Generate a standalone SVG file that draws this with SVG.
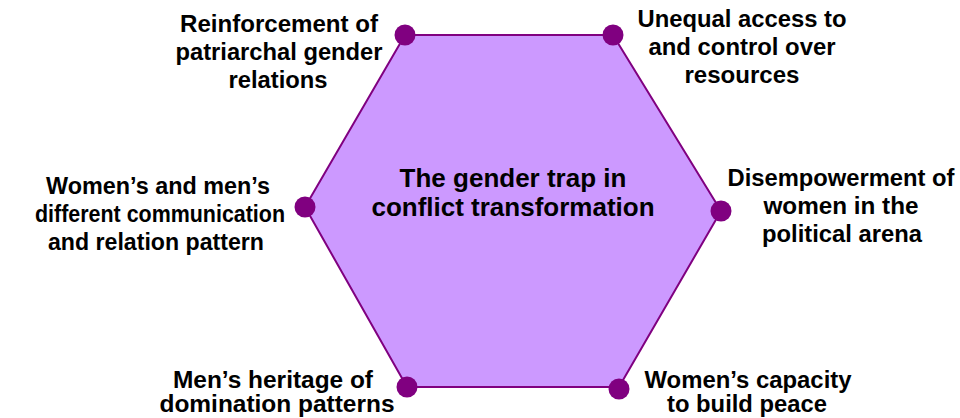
<svg xmlns="http://www.w3.org/2000/svg" width="960" height="418" viewBox="0 0 960 418">
  <style>
    .hex { fill: #CC99FF; stroke: none; }
    .edge { fill: none; stroke: #800080; stroke-width: 2; stroke-linejoin: round; }
    .dot { fill: #800080; }
    .label { font-family: "Liberation Sans", Arial, sans-serif; font-weight: bold; font-size: 23px; fill: #000; text-anchor: middle; }
    .title { font-family: "Liberation Sans", Arial, sans-serif; font-weight: bold; font-size: 26px; fill: #000; text-anchor: middle; }
  </style>
  <rect width="960" height="418" fill="#FFFFFF"/>

  <!-- central hexagon -->
  <g id="hub">
    <polygon class="hex" points="405,35 613,35 721,211 619,387 407,387 305,207"/>
    <text class="title" x="513" y="187">The gender trap in</text>
    <text class="title" x="513" y="216">conflict transformation</text>
  </g>

  <!-- hexagon sides -->
  <g id="connectors">
    <polygon class="edge" points="405,35 613,35 721,211 619,387 407,387 305,207"/>
  </g>

  <g id="node-patriarchal">
    <circle class="dot" cx="405" cy="35" r="10.5"/>
    <text class="label" x="279" y="32" textLength="198" lengthAdjust="spacingAndGlyphs">Reinforcement of</text>
    <text class="label" x="279" y="60" textLength="207" lengthAdjust="spacingAndGlyphs">patriarchal gender</text>
    <text class="label" x="278" y="88" textLength="99" lengthAdjust="spacingAndGlyphs">relations</text>
  </g>

  <g id="node-resources">
    <circle class="dot" cx="613" cy="35" r="10.5"/>
    <text class="label" x="742" y="27" textLength="209" lengthAdjust="spacingAndGlyphs">Unequal access to</text>
    <text class="label" x="742" y="55" textLength="187" lengthAdjust="spacingAndGlyphs">and control over</text>
    <text class="label" x="742" y="83" textLength="115" lengthAdjust="spacingAndGlyphs">resources</text>
  </g>

  <g id="node-political">
    <circle class="dot" cx="721" cy="211" r="10.5"/>
    <text class="label" x="841" y="186" textLength="227" lengthAdjust="spacingAndGlyphs">Disempowerment of</text>
    <text class="label" x="841" y="214" textLength="155" lengthAdjust="spacingAndGlyphs">women in the</text>
    <text class="label" x="842" y="242" textLength="160" lengthAdjust="spacingAndGlyphs">political arena</text>
  </g>

  <g id="node-peace">
    <circle class="dot" cx="619" cy="389" r="10.5"/>
    <text class="label" x="748" y="388" textLength="207" lengthAdjust="spacingAndGlyphs">Women’s capacity</text>
    <text class="label" x="747" y="412" textLength="160" lengthAdjust="spacingAndGlyphs">to build peace</text>
  </g>

  <g id="node-domination">
    <circle class="dot" cx="407" cy="387" r="10.5"/>
    <text class="label" x="273" y="388" textLength="200" lengthAdjust="spacingAndGlyphs">Men’s heritage of</text>
    <text class="label" x="277" y="412" textLength="235" lengthAdjust="spacingAndGlyphs">domination patterns</text>
  </g>

  <g id="node-communication">
    <circle class="dot" cx="305" cy="207" r="10.5"/>
    <text class="label" x="158" y="194" textLength="224" lengthAdjust="spacingAndGlyphs">Women’s and men’s</text>
    <text class="label" x="160" y="222" textLength="250" lengthAdjust="spacingAndGlyphs">different communication</text>
    <text class="label" x="156" y="250" textLength="216" lengthAdjust="spacingAndGlyphs">and relation pattern</text>
  </g>
</svg>
